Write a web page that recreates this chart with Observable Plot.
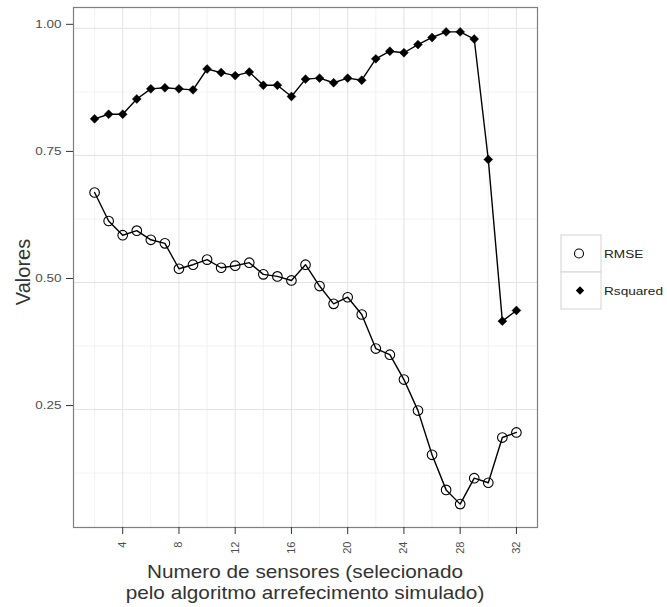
<!DOCTYPE html>
<html>
<head>
<meta charset="utf-8">
<script src="https://cdn.jsdelivr.net/npm/d3@7"></script>
<script src="https://cdn.jsdelivr.net/npm/@observablehq/plot@0.6"></script>
<style>
  html, body { margin: 0; padding: 0; background: white; }
  #wrap { position: relative; width: 667px; height: 607px; }
  #overlay { position: absolute; left: 0; top: 0; pointer-events: none; }
</style>
</head>
<body>
<div id="wrap"></div>
<script>
// ---- data ----
const sensores = [2, 3, 4, 5, 6, 7, 8, 9, 10, 11, 12, 13, 14, 15, 16, 17, 18, 19, 20, 21, 22, 23, 24, 25, 26, 27, 28, 29, 30, 31, 32];
const rmse = [0.677, 0.621, 0.593, 0.602, 0.584, 0.577, 0.527, 0.535, 0.545, 0.529, 0.533, 0.539, 0.516, 0.512, 0.504, 0.535, 0.493, 0.458, 0.471, 0.437, 0.370, 0.358, 0.309, 0.248, 0.161, 0.092, 0.064, 0.115, 0.106, 0.195, 0.205];
const rsquared = [0.822, 0.831, 0.831, 0.861, 0.881, 0.883, 0.881, 0.879, 0.920, 0.913, 0.907, 0.914, 0.888, 0.888, 0.866, 0.900, 0.902, 0.893, 0.902, 0.898, 0.940, 0.955, 0.952, 0.968, 0.982, 0.993, 0.993, 0.979, 0.742, 0.424, 0.445];
const seriesNames = ["RMSE", "Rsquared"];
const xTicks = [4, 8, 12, 16, 20, 24, 28, 32];
const xMinor = [2, 6, 10, 14, 18, 22, 26, 30];
const yTicks = [0.25, 0.50, 0.75, 1.00];
const yMinor = [0.125, 0.375, 0.625, 0.875];
const xTitle = ["Numero de sensores (selecionado", "pelo algoritmo arrefecimento simulado)"];
const yTitle = "Valores";

// ---- table ----
const rows = [];
sensores.forEach((s, i) => {
  rows.push({x: s, y: rmse[i], serie: seriesNames[0]});
  rows.push({x: s, y: rsquared[i], serie: seriesNames[1]});
});
const rmseRows = rows.filter(d => d.serie === "RMSE");
const rsqRows = rows.filter(d => d.serie === "Rsquared");

const W = 667, H = 607;
const mL = 73, mR = 130, mT = 7, mB = 80;

const chart = Plot.plot({
  width: W,
  height: H,
  marginLeft: mL,
  marginRight: mR,
  marginTop: mT,
  marginBottom: mB,
  style: {fontFamily: "'Liberation Sans', Arial, sans-serif", fontSize: "11px", background: "white", color: "#4d4d4d"},
  x: {domain: [0.5, 33.5]},
  y: {domain: [0.018, 1.041]},
  marks: [
    Plot.gridX(xMinor, {stroke: "#f2f2f2", strokeOpacity: 1, strokeWidth: 1}),
    Plot.gridY(yMinor, {stroke: "#f2f2f2", strokeOpacity: 1, strokeWidth: 1}),
    Plot.gridX(xTicks, {stroke: "#e3e3e3", strokeOpacity: 1, strokeWidth: 1}),
    Plot.gridY(yTicks, {stroke: "#e3e3e3", strokeOpacity: 1, strokeWidth: 1}),
    Plot.line(rows, {x: "x", y: "y", z: "serie", stroke: "black", strokeWidth: 1.4}),
    Plot.dot(rmseRows, {x: "x", y: "y", r: 4.8, symbol: "circle", stroke: "black", strokeWidth: 1.1, fill: "none"}),
    Plot.dot(rsqRows, {x: "x", y: "y", r: 4, symbol: "diamond2", fill: "black", stroke: "black", strokeWidth: 0.5}),
    Plot.frame({stroke: "#7f7f7f", strokeWidth: 1.2}),
    Plot.axisX(xTicks, {tickRotate: -90, tickSize: 7, tickPadding: 7, label: null, stroke: "#333", fill: "#4d4d4d", tickFormat: d => String(d)}),
    Plot.axisY(yTicks, {tickSize: 7, tickPadding: 5, dy: -4, label: null, stroke: "#333", fill: "#4d4d4d", fontSize: 11.5, tickFormat: d => d.toFixed(2)})
  ]
});

const wrap = document.getElementById("wrap");
wrap.appendChild(chart);

// widen y tick labels slightly (reference glyphs are horizontally wider)
chart.querySelectorAll('g[aria-label="y-axis tick label"] text').forEach(t => {
  const len = t.getComputedTextLength();
  if (len > 0) {
    t.setAttribute("textLength", (len * 1.17).toFixed(2));
    t.setAttribute("lengthAdjust", "spacingAndGlyphs");
  }
});

// ---- overlay: axis titles and legend ----
const ns = "http://www.w3.org/2000/svg";
const ov = document.createElementNS(ns, "svg");
ov.setAttribute("id", "overlay");
ov.setAttribute("width", W);
ov.setAttribute("height", H);
ov.setAttribute("font-family", "'Liberation Sans', Arial, sans-serif");
wrap.appendChild(ov);

function el(tag, attrs, text) {
  const e = document.createElementNS(ns, tag);
  for (const k in attrs) e.setAttribute(k, attrs[k]);
  if (text != null) e.textContent = text;
  ov.appendChild(e);
  return e;
}
function stretch(t, k) {
  const len = t.getComputedTextLength();
  if (len > 0) {
    t.setAttribute("textLength", (len * k).toFixed(2));
    t.setAttribute("lengthAdjust", "spacingAndGlyphs");
  }
}

const cx = mL + (W - mL - mR) / 2;
const titleEls = xTitle.map((t, i) =>
  el("text", {x: cx, y: 578 + i * 21, "text-anchor": "middle", "font-size": 19, fill: "#333"}, t));
const k1 = 316 / titleEls[0].getComputedTextLength();
titleEls.forEach(t => stretch(t, k1));

el("text", {transform: `translate(30,272) rotate(-90)`, "text-anchor": "middle", "font-size": 20, fill: "#333"}, yTitle);

// legend
const lx = 561, ly = 235, kw = 40, kh = 37;
const legTexts = [];
seriesNames.forEach((name, i) => {
  const y0 = ly + i * kh;
  el("rect", {x: lx, y: y0, width: kw, height: kh, fill: "white", stroke: "#d4d4d4", "stroke-width": 1});
  if (name === "RMSE") {
    el("circle", {cx: lx + 18, cy: y0 + kh / 2, r: 4.5, fill: "none", stroke: "black", "stroke-width": 1.1});
  } else {
    const c = lx + 19, m = y0 + kh / 2, r = 4.2;
    el("path", {d: `M${c},${m - r}L${c + r},${m}L${c},${m + r}L${c - r},${m}Z`, fill: "black"});
  }
  legTexts.push(el("text", {x: lx + kw + 3, y: y0 + kh / 2 + 4, "font-size": 11.5, fill: "#222"}, name));
});
const kl = 59 / legTexts[1].getComputedTextLength();
legTexts.forEach(t => stretch(t, kl));
</script>
</body>
</html>
